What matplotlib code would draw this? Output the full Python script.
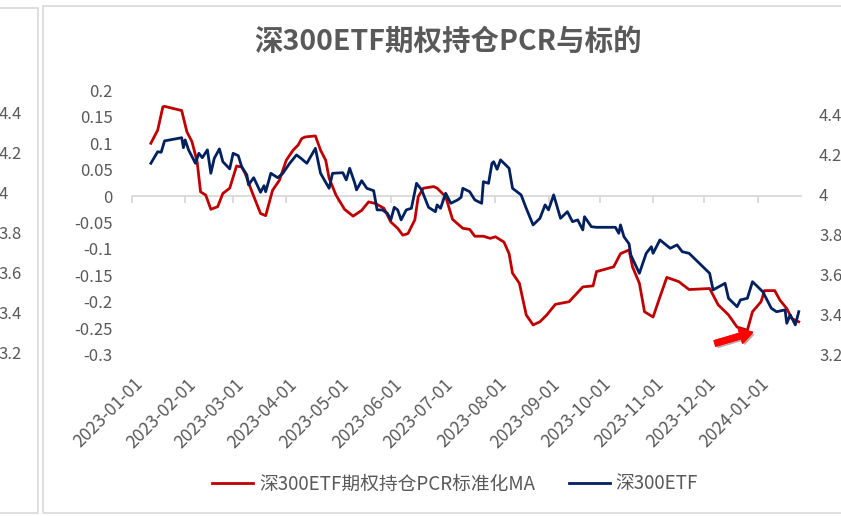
import matplotlib
matplotlib.use("Agg")
import matplotlib.pyplot as plt
import matplotlib.dates as mdates
import matplotlib.patheffects as pe
from matplotlib.transforms import blended_transform_factory, offset_copy
from matplotlib.patches import Rectangle
import pandas as pd

plt.rcParams['font.family'] = ['Noto Sans CJK SC', 'DejaVu Sans']

TITLE = "深300ETF期权持仓PCR与标的"
RED_NAME = "深300ETF期权持仓PCR标准化MA"
BLUE_NAME = "深300ETF"

red_dates = ['2023-01-12','2023-01-16','2023-01-19','2023-01-20','2023-01-30','2023-02-02','2023-02-05','2023-02-08','2023-02-10','2023-02-13',
             '2023-02-16','2023-02-20','2023-02-23','2023-02-27','2023-03-03','2023-03-06','2023-03-08','2023-03-12','2023-03-17','2023-03-20',
             '2023-03-24','2023-03-28','2023-04-01','2023-04-05','2023-04-08','2023-04-10','2023-04-12','2023-04-18','2023-04-21','2023-04-24',
             '2023-04-26','2023-04-30','2023-05-05','2023-05-10','2023-05-15','2023-05-19','2023-05-23','2023-05-28','2023-06-01','2023-06-05',
             '2023-06-08','2023-06-11','2023-06-15','2023-06-17','2023-06-20','2023-06-26','2023-06-28','2023-07-03','2023-07-07','2023-07-13',
             '2023-07-17','2023-07-20','2023-07-25','2023-07-29','2023-08-01','2023-08-06','2023-08-09','2023-08-11','2023-08-15','2023-08-19',
             '2023-08-23','2023-08-27','2023-08-31','2023-09-05','2023-09-13','2023-09-21','2023-09-27','2023-09-29','2023-10-09','2023-10-13',
             '2023-10-18','2023-10-20','2023-10-24','2023-10-27','2023-11-01','2023-11-05','2023-11-09','2023-11-16','2023-11-22','2023-12-04',
             '2023-12-09','2023-12-15','2023-12-20','2023-12-26','2023-12-29','2024-01-03','2024-01-05','2024-01-11','2024-01-14','2024-01-18',
             '2024-01-21','2024-01-25']
red_vals = [0.100, 0.125, 0.169, 0.170, 0.162, 0.122, 0.103, 0.065, 0.008, 0.002,
            -0.025, -0.020, 0.005, 0.015, 0.057, 0.055, 0.043, 0.008, -0.033, -0.037,
            0.011, 0.030, 0.068, 0.087, 0.097, 0.109, 0.112, 0.114, 0.087, 0.068,
            0.034, 0.002, -0.025, -0.038, -0.027, -0.011, -0.014, -0.023, -0.049, -0.061,
            -0.074, -0.071, -0.045, -0.001, 0.015, 0.018, 0.015, -0.001, -0.044, -0.061,
            -0.063, -0.076, -0.076, -0.080, -0.077, -0.087, -0.109, -0.146, -0.165, -0.225,
            -0.244, -0.238, -0.225, -0.205, -0.200, -0.172, -0.170, -0.143, -0.134, -0.109,
            -0.102, -0.134, -0.165, -0.219, -0.229, -0.191, -0.154, -0.162, -0.177, -0.175,
            -0.206, -0.225, -0.248, -0.254, -0.219, -0.200, -0.179, -0.179, -0.197, -0.213,
            -0.232, -0.238]

blue_dates = ['2023-01-12','2023-01-16','2023-01-18','2023-01-20','2023-01-30','2023-01-31','2023-02-01','2023-02-03','2023-02-07','2023-02-09',
              '2023-02-11','2023-02-14','2023-02-16','2023-02-18','2023-02-21','2023-02-23','2023-02-27','2023-03-01','2023-03-04','2023-03-06',
              '2023-03-09','2023-03-10','2023-03-13','2023-03-15','2023-03-17','2023-03-19','2023-03-20','2023-03-23','2023-03-27','2023-03-30',
              '2023-04-03','2023-04-07','2023-04-10','2023-04-13','2023-04-18','2023-04-21','2023-04-26','2023-04-28','2023-05-04','2023-05-06',
              '2023-05-08','2023-05-11','2023-05-12','2023-05-15','2023-05-18','2023-05-22','2023-05-24','2023-05-27','2023-05-30','2023-06-01',
              '2023-06-03','2023-06-05','2023-06-07','2023-06-10','2023-06-13','2023-06-16','2023-06-19','2023-06-23','2023-06-27','2023-06-28',
              '2023-06-30','2023-07-03','2023-07-06','2023-07-10','2023-07-12','2023-07-13','2023-07-17','2023-07-20','2023-07-24','2023-07-25',
              '2023-07-28','2023-07-30','2023-07-31','2023-08-02','2023-08-04','2023-08-09','2023-08-11','2023-08-16','2023-08-19','2023-08-23',
              '2023-08-27','2023-08-30','2023-09-01','2023-09-04','2023-09-08','2023-09-12','2023-09-15','2023-09-18','2023-09-21','2023-09-22',
              '2023-09-26','2023-09-29','2023-10-10','2023-10-12','2023-10-13','2023-10-15','2023-10-18','2023-10-19','2023-10-24','2023-10-28',
              '2023-10-31','2023-11-01','2023-11-05','2023-11-11','2023-11-15','2023-11-18','2023-11-22','2023-11-28','2023-12-04','2023-12-06',
              '2023-12-13','2023-12-15','2023-12-20','2023-12-22','2023-12-26','2023-12-29','2024-01-04','2024-01-09','2024-01-12','2024-01-17',
              '2024-01-18','2024-01-20','2024-01-23','2024-01-25']
blue_vals = [4.156, 4.214, 4.211, 4.268, 4.284, 4.234, 4.273, 4.223, 4.156, 4.206,
             4.184, 4.223, 4.106, 4.181, 4.228, 4.164, 4.128, 4.206, 4.194, 4.139,
             4.098, 4.048, 4.084, 4.048, 4.011, 4.044, 4.014, 4.106, 4.084, 4.106,
             4.156, 4.198, 4.178, 4.156, 4.231, 4.106, 4.031, 4.106, 4.109, 4.073,
             4.131, 4.056, 4.023, 4.069, 4.031, 4.019, 3.923, 3.923, 3.906, 3.873,
             3.936, 3.923, 3.873, 3.923, 3.931, 4.056, 4.023, 3.936, 3.914, 3.948,
             3.931, 4.006, 3.956, 3.973, 3.986, 4.031, 4.014, 3.973, 3.956, 4.064,
             4.056, 4.156, 4.164, 4.126, 4.173, 4.131, 4.031, 3.998, 3.931, 3.848,
             3.881, 3.948, 3.923, 3.998, 3.881, 3.914, 3.864, 3.873, 3.823, 3.889,
             3.839, 3.836, 3.836, 3.806, 3.848, 3.789, 3.753, 3.698, 3.606, 3.706,
             3.739, 3.706, 3.773, 3.731, 3.748, 3.714, 3.706, 3.656, 3.606, 3.523,
             3.556, 3.481, 3.439, 3.473, 3.481, 3.564, 3.514, 3.431, 3.414, 3.423,
             3.356, 3.398, 3.348, 3.414]

x_tick_labels = ['2023-01-01','2023-02-01','2023-03-01','2023-04-01','2023-05-01','2023-06-01','2023-07-01',
                 '2023-08-01','2023-09-01','2023-10-01','2023-11-01','2023-12-01','2024-01-01']
left_ticks = [-0.3, -0.25, -0.2, -0.15, -0.1, -0.05, 0, 0.05, 0.1, 0.15, 0.2]
left_tick_labels = ['-0.3', '-0.25', '-0.2', '-0.15', '-0.1', '-0.05', '0', '0.05', '0.1', '0.15', '0.2']
right_ticks = [3.2, 3.4, 3.6, 3.8, 4.0, 4.2, 4.4]
right_tick_labels = ['3.2', '3.4', '3.6', '3.8', '4', '4.2', '4.4']
arrow_tip = ('2023-12-29', -0.258)

GRAY = '#595959'
RED = '#C00000'
NAVY = '#002060'
W, H = 841, 516

fig = plt.figure(figsize=(W / 100, H / 100), dpi=100)
ax = fig.add_axes([132 / W, 161.5 / H, 669 / W, 264 / H])
ax2 = ax.twinx()

rd = pd.to_datetime(red_dates)
bd = pd.to_datetime(blue_dates)
xt = pd.to_datetime(x_tick_labels)

l1, = ax.plot(rd, red_vals, color=RED, lw=2.0, zorder=3, label=RED_NAME)
l2, = ax2.plot(bd, blue_vals, color=NAVY, lw=2.0, zorder=3, label=BLUE_NAME)

x0 = mdates.date2num(pd.Timestamp('2023-01-01'))
ax.set_xlim(x0, x0 + 390.3)
ax.set_ylim(-0.3, 0.2)
ax2.set_ylim(3.2, 4.52)

for s in ['top', 'right', 'left']:
    ax.spines[s].set_visible(False)
for s in ax2.spines.values():
    s.set_visible(False)
ax.spines['bottom'].set_position(('data', 0))
ax.spines['bottom'].set_color('#D9D9D9')
ax.spines['bottom'].set_linewidth(1.3)

ax.set_xticks(mdates.date2num(xt))
ax.tick_params(axis='x', length=5, width=1.3, color='#D9D9D9', direction='out', labelbottom=False)

ax.set_yticks(left_ticks)
ax.set_yticklabels(left_tick_labels)
ax.tick_params(axis='y', length=0, pad=14, labelsize=12, labelcolor=GRAY)
ax2.set_yticks(right_ticks)
ax2.set_yticklabels(right_tick_labels)
ax2.tick_params(axis='y', length=0, pad=13, labelsize=12, labelcolor=GRAY)

trans = offset_copy(blended_transform_factory(ax.transData, ax.transAxes), fig=fig, x=2, y=0, units='dots')
for d, lab in zip(mdates.date2num(xt), x_tick_labels):
    ax.text(d, -0.078, lab, transform=trans, rotation=45, ha='right', va='top',
            rotation_mode='anchor', fontsize=12.6, color=GRAY)

# neighbouring chart's axis labels, cut off at the left edge
tl = blended_transform_factory(fig.transFigure, ax2.transData)
for v, lab in zip(right_ticks, right_tick_labels):
    fig.text(-1.5 / W, v, lab, transform=tl, ha='left', va='center', fontsize=12, color=GRAY)

fig.text(448 / W, 1 - 42 / H, TITLE, ha='center', va='center', fontsize=20.5,
         fontweight='bold', color=GRAY)

fig.legend(handles=[l1, l2], loc='center', bbox_to_anchor=(455 / W, 32 / H), ncol=2,
           frameon=False, fontsize=13.5, labelcolor=GRAY, handlelength=2.2,
           handletextpad=0.3, columnspacing=1.8)

ann = ax.annotate('', xy=(mdates.date2num(pd.Timestamp(arrow_tip[0])), arrow_tip[1]),
                  xytext=(-27, -8), textcoords='offset points',
                  arrowprops=dict(arrowstyle='simple,head_length=0.9,head_width=1.1,tail_width=0.4',
                                  color='#FF0000', shrinkA=0, shrinkB=0, mutation_scale=10))
ann.arrow_patch.set_path_effects([pe.withSimplePatchShadow(offset=(1.5, -1.5), alpha=0.35), pe.Normal()])

# chart-area frames
fig.patches.append(Rectangle((43 / W, 3 / H), 1, (513 - 6) / H, transform=fig.transFigure,
                             fill=False, edgecolor='#D9D9D9', lw=1.2))
fig.patches.append(Rectangle((-0.1, 3 / H), 0.1 + 38 / W, (513 - 8) / H, transform=fig.transFigure,
                             fill=False, edgecolor='#D9D9D9', lw=1.2))

fig.savefig('out.png', dpi=100)
